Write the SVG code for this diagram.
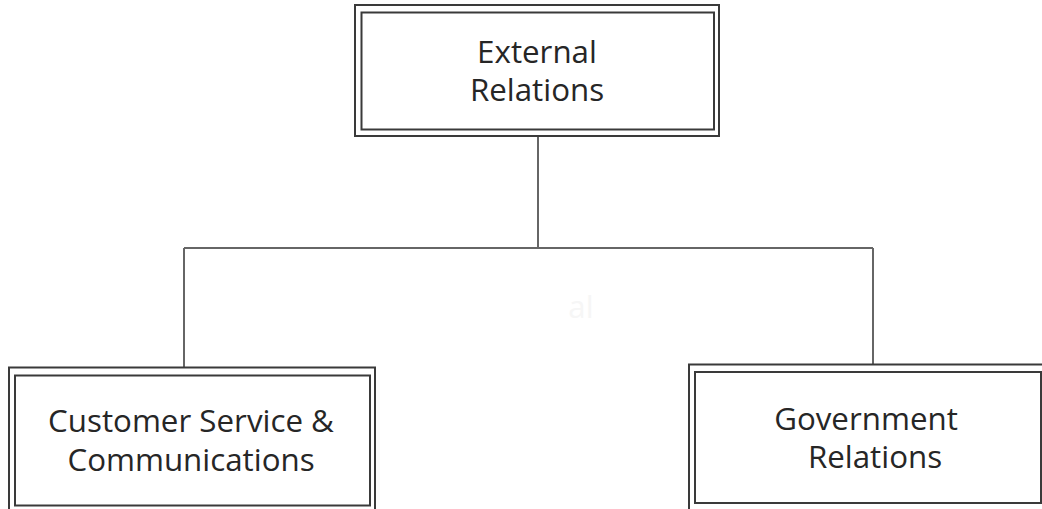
<svg xmlns="http://www.w3.org/2000/svg" width="1042" height="509" viewBox="0 0 1042 509">
<style>
.box{fill:none;stroke:#3a3a3a;stroke-width:2}
.lbl{font-family:"Open Sans","Noto Sans","Liberation Sans",sans-serif;font-size:31.3px;fill:#262626;text-anchor:middle}
.conn{fill:none;stroke:#666666;stroke-width:2}
</style>
<rect width="1042" height="509" fill="#ffffff"/>
<g id="connectors">
<path class="conn" d="M538,136 V248 M184,248 H873 M184,248 V367 M873,248 V364"/>
</g>
<text x="581" y="318" style="font-family:'Open Sans','Noto Sans',sans-serif;font-size:31.3px;fill:#f6f6f6;text-anchor:middle">al</text>
<g id="external-relations">
<rect class="box" x="355" y="5" width="364" height="131"/>
<rect class="box" x="361.5" y="12.5" width="352.5" height="117"/>
<text class="lbl" x="537" y="63">External</text>
<text class="lbl" x="537" y="101">Relations</text>
</g>
<g id="customer-service">
<rect class="box" x="9" y="367.5" width="366" height="150"/>
<rect class="box" x="15" y="375.5" width="355" height="130"/>
<text class="lbl" x="191" y="432">Customer Service &amp;</text>
<text class="lbl" x="191" y="471">Communications</text>
</g>
<g id="government-relations">
<rect class="box" x="689" y="364.5" width="366" height="150"/>
<rect class="box" x="695" y="372" width="346" height="131"/>
<text class="lbl" x="866" y="430">Government</text>
<text class="lbl" x="875" y="468">Relations</text>
</g>
</svg>
